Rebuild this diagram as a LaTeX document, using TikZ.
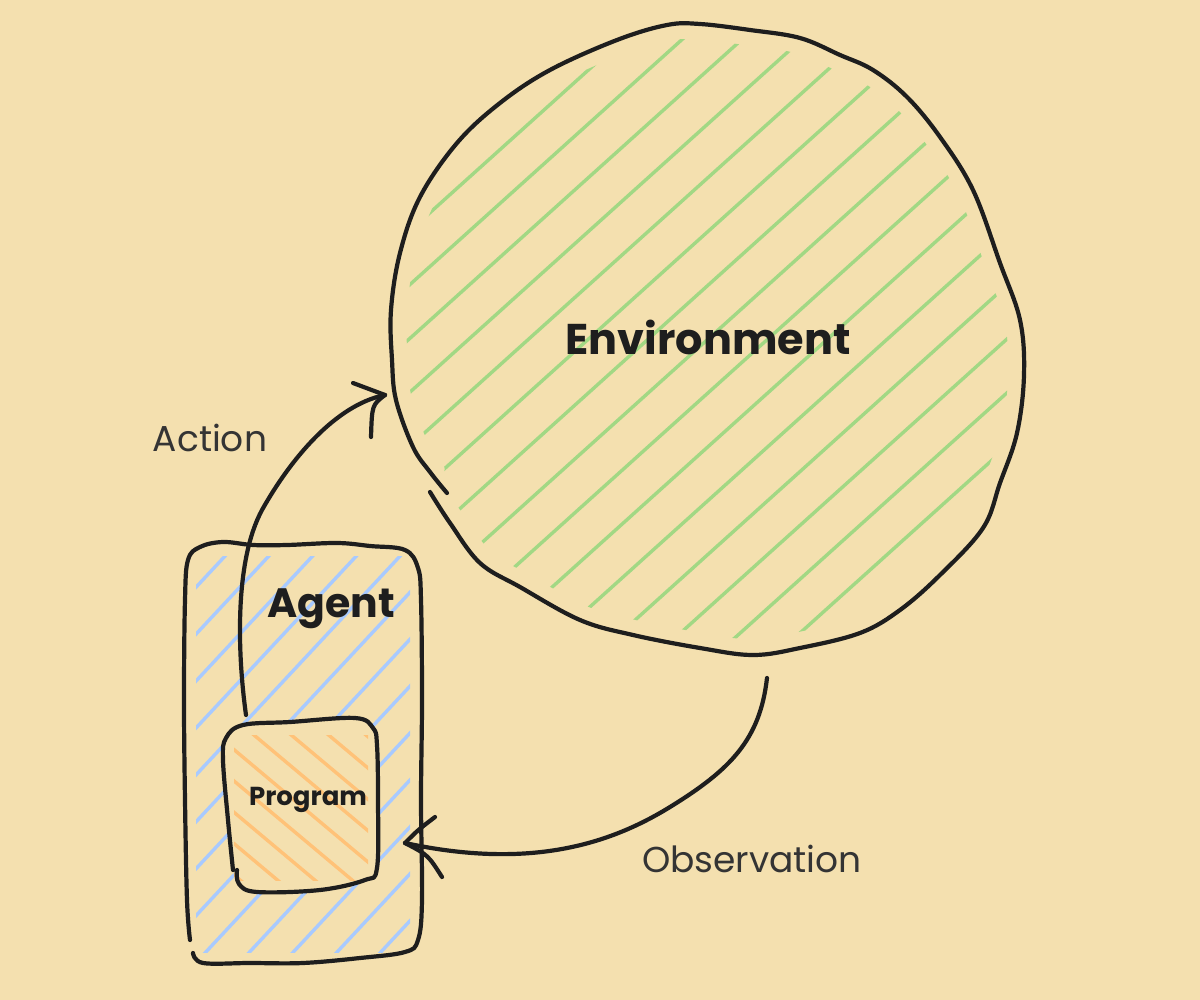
\documentclass[tikz,border=0pt]{standalone}
\usepackage{fontspec}
\setmainfont{Poppins}
\definecolor{bg}{RGB}{244,224,175}
\definecolor{ink}{RGB}{30,30,30}
\definecolor{gray}{RGB}{52,52,52}
\definecolor{hgreen}{RGB}{162,216,132}
\definecolor{hblue}{RGB}{168,202,255}
\definecolor{horange}{RGB}{255,194,120}
\tikzset{
  stroke/.style={draw=ink, line width=4.2pt, line cap=round, line join=round},
  hatchgreen/.style={draw=hgreen, line width=3.4pt, line cap=round},
  hatchblue/.style={draw=hblue, line width=3.4pt, line cap=round},
  hatchorange/.style={draw=horange, line width=3.4pt, line cap=round},
  boldlab/.style={text=ink, anchor=base, inner sep=0pt, font=\bfseries},
  plainlab/.style={text=gray, anchor=base, inner sep=0pt},
}
\def\envpts{(430,492) (450,523) (480,563) (520,587) (580,620) (633,635) (700,648) (753,655) (800,648) (860,633) (900,610) (940,575) (983,528) (1000,483) (1017,433) (1024,375) (1020,320) (1000,263) (973,190) (940,137) (907,97) (873,70) (840,55) (800,38) (750,30) (700,24) (667,25) (617,40) (550,70) (500,103) (457,143) (420,197) (400,253) (391,310) (392,360) (396,400) (413,447) (430,472)}
\begin{document}
\begin{tikzpicture}[x=1pt,y=-1pt]
\fill[bg] (0,0) rectangle (1200,1000);
\useasboundingbox (0,0) rectangle (1200,1000);

% ---------- Environment hatch ----------
\begin{scope}
  \clip[shift={(707,340)}, scale=0.95, shift={(-707,-340)}]
    plot[smooth cycle, tension=0.6] coordinates {\envpts};
  \begin{scope}[shift={(707,340)}, rotate=42]
    \foreach \k in {-9,...,9} { \draw[hatchgreen] (-450,\k*40) -- (450,\k*40); }
  \end{scope}
\end{scope}

% ---------- Agent hatch ----------
\begin{scope}
  \clip (196,556) rectangle (410,952);
  \begin{scope}[shift={(303,754)}, rotate=47]
    \foreach \k in {-11,...,11} { \draw[hatchblue] (-300,\k*32) -- (300,\k*32); }
  \end{scope}
\end{scope}

% ---------- Program box background + hatch ----------
\fill[bg] plot[smooth cycle, tension=0.6] coordinates {(239,884) (257,892) (320,890) (365,880) (377,868) (378,800) (377,745) (373,728) (355,718) (290,722) (243,725) (226,738) (223,760) (228,820) (233,870)};
\begin{scope}
  \clip (234,735) rectangle (368,880);
  \begin{scope}[shift={(300,805)}, rotate=-40]
    \foreach \k in {-5,...,5} { \draw[hatchorange] (-200,\k*24) -- (200,\k*24); }
  \end{scope}
\end{scope}

% ---------- Environment outline ----------
\draw[stroke] plot[smooth, tension=0.6] coordinates {\envpts (447,493)};

% ---------- Agent outline ----------
\draw[stroke] plot[smooth, tension=0.6] coordinates {(193,953) (203,963) (250,963) (303,963) (360,958) (405,952) (418,940) (422,900) (421,800) (422,700) (421,600) (418,568) (405,550) (370,546) (337,543) (287,545) (253,545) (223,542) (200,547) (188,560) (185,600) (184,700) (185,800) (187,900) (190,940)};

% ---------- Program outline ----------
\draw[stroke] plot[smooth, tension=0.6] coordinates {(237,870) (239,884) (257,892) (320,890) (365,880) (377,868) (378,800) (377,745) (373,728) (355,718) (290,722) (243,725) (226,738) (223,760) (228,820) (233,870)};

% ---------- Action arrow ----------
\coordinate (actS) at (246,715);
\coordinate (actM) at (262,510);
\coordinate (actT) at (385,395);
\coordinate (actB1) at (353,383);
\coordinate (actB2) at (371,437);
\draw[stroke] (actS) .. controls (237,650) and (235,560) .. (actM)
  .. controls (290,460) and (335,405) .. (actT);
\draw[stroke] (actT) -- (actB1);
\draw[stroke] (actT) .. controls (372,405) .. (actB2);

% ---------- Observation arrow ----------
\coordinate (obsS) at (767,678);
\coordinate (obsM) at (670,807);
\coordinate (obsT) at (405,843);
\coordinate (obsB1) at (435,817);
\coordinate (obsB2) at (442,877);
\draw[stroke] (obsS) .. controls (760,740) and (730,770) .. (obsM)
  .. controls (610,844) and (530,870) .. (obsT);
\draw[stroke] (obsT) .. controls (418,830) .. (obsB1);
\draw[stroke] (obsT) .. controls (428,855) .. (obsB2);

% ---------- Labels ----------
\node[boldlab, font=\bfseries\fontsize{43}{50}\selectfont] (env) at (708,355) {Environment};
\node[boldlab, font=\bfseries\fontsize{41}{47}\selectfont] (agent) at (331,617) {Agent};
\node[boldlab, font=\bfseries\fontsize{26}{30}\selectfont] (prog) at (308,805) {Program};
\node[plainlab, font=\fontsize{36}{42}\selectfont] (action) at (210,451) {Action};
\node[plainlab, font=\fontsize{36}{42}\selectfont] (obs) at (752,872) {Observation};
\end{tikzpicture}
\end{document}
